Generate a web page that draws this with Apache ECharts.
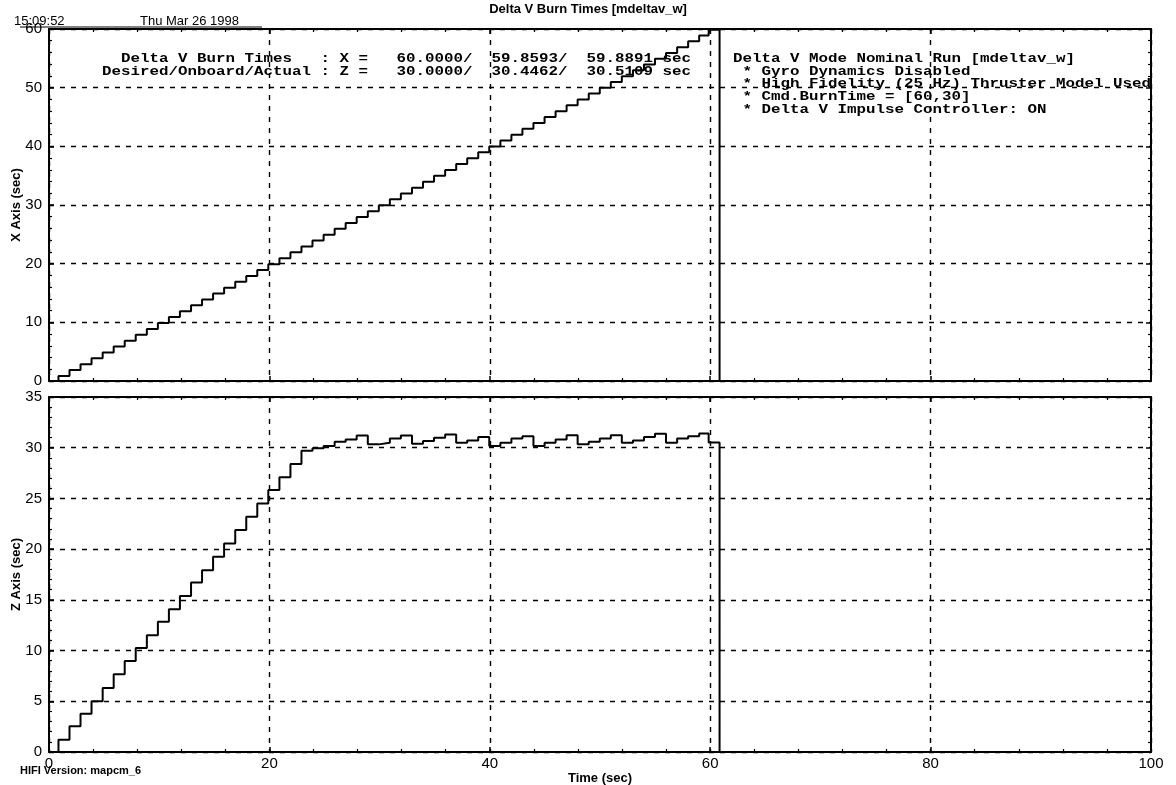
<!DOCTYPE html>
<html>
<head>
<meta charset="utf-8">
<script src="https://cdn.jsdelivr.net/npm/echarts@6/dist/echarts.min.js"></script>
<style>html,body{margin:0;padding:0;background:#fff}#c{width:1176px;height:785px}</style>
</head>
<body>
<div id="c"></div>
<script>
// ---- data ----
const pulseTimes = [0.86,1.86,2.86,3.86,4.87,5.87,6.87,7.87,8.88,9.88,10.88,11.88,12.89,13.89,14.89,15.89,16.9,17.9,18.9,19.9,20.91,21.91,22.91,23.91,24.92,25.92,26.92,27.92,28.93,29.93,30.93,31.93,32.94,33.94,34.94,35.95,36.95,37.95,38.95,39.95,40.96,41.96,42.96,43.96,44.97,45.97,46.97,47.97,48.98,49.98,50.98,51.98,52.99,53.99,54.99,55.99,57.0,58.0,59.0,59.86];
const xBurn = [0.85,1.86,2.86,3.87,4.87,5.87,6.88,7.88,8.88,9.89,10.89,11.89,12.9,13.9,14.9,15.91,16.91,17.91,18.92,19.92,20.92,21.93,22.93,23.93,24.94,25.94,26.94,27.95,28.95,29.95,30.96,31.96,32.96,33.97,34.97,35.97,36.98,37.98,38.98,39.99,40.99,41.99,42.99,43.99,44.99,45.99,46.99,47.99,48.99,49.99,50.97,51.96,52.95,53.94,54.93,55.92,56.91,57.9,58.9,59.89];
const zBurn = [1.22,2.53,3.78,5.0,6.32,7.66,8.98,10.26,11.51,12.83,14.08,15.39,16.71,17.93,19.24,20.56,21.88,23.19,24.5,25.82,27.1,28.4,29.7,29.95,30.16,30.59,30.82,31.2,30.33,30.49,30.9,31.2,30.4,30.65,30.98,31.3,30.49,30.72,31.05,30.16,30.49,30.9,31.14,30.16,30.49,30.82,31.24,30.33,30.59,30.9,31.24,30.49,30.72,31.05,31.37,30.49,30.9,31.14,31.4,30.51];
const cutoffTime = 60.85;
const xTicks = [0,20,40,60,80,100];
const yTicksX = [0,10,20,30,40,50,60];
const yTicksZ = [0,5,10,15,20,25,30,35];
const leftNote = [
  "  Delta V Burn Times   : X =   60.0000/  59.8593/  59.8891 sec",
  "Desired/Onboard/Actual : Z =   30.0000/  30.4462/  30.5109 sec"
];
const rightNote = [
  "Delta V Mode Nominal Run [mdeltav_w]",
  " * Gyro Dynamics Disabled",
  " * High Fidelity (25 Hz) Thruster Model Used",
  " * Cmd.BurnTime = [60,30]",
  " * Delta V Impulse Controller: ON"
];

// ---- build series ----
function buildStep(vals){
  const d = [[0,0]];
  pulseTimes.forEach((t,i)=>d.push([t, vals[i]]));
  d.push([cutoffTime, 0]);
  d.push([100, 0]);
  return d;
}

const chart = echarts.init(document.getElementById('c'), null, {renderer:'canvas'});
const sans = '"Liberation Sans", Arial, sans-serif';
const dash = {color:'#000', width:1.4, type:[5,6]};
const G = [
  {left:49, right:25, top:29, height:352, containLabel:false, outerBoundsMode:'none'},
  {left:49, right:25, top:397, height:355, containLabel:false, outerBoundsMode:'none'}
];

function xAx(grid, pos, labels){
  return {
    type:'value', gridIndex:grid, position:pos, min:xTicks[0], max:xTicks[xTicks.length-1], interval:20,
    axisLine:{show:true, onZero:false, lineStyle:{color:'#000', width:2}},
    axisTick:{show:true, inside:true, length:5, lineStyle:{color:'#000', width:1.5}},
    minorTick:{show:true, splitNumber:5, length:3, lineStyle:{color:'#000', width:1.2}},
    axisLabel:{show:labels, color:'#000', fontFamily:sans, fontSize:15, margin:4},
    splitLine:{show:pos==='bottom', lineStyle:dash},
    name: labels ? 'Time (sec)' : '', nameLocation:'middle', nameGap:20, nameMoveOverlap:false,
    nameTextStyle:{color:'#000', fontFamily:sans, fontSize:13, fontWeight:'bold'}
  };
}
function yAx(grid, pos, max, step, name){
  const lab = pos==='left';
  return {
    type:'value', gridIndex:grid, position:pos, min:0, max:max, interval:step,
    axisLine:{show:true, onZero:false, lineStyle:{color:'#000', width:2}},
    axisTick:{show:true, inside:true, length:5, lineStyle:{color:'#000', width:1.5}},
    minorTick:{show:true, splitNumber:5, length:3, lineStyle:{color:'#000', width:1.2}},
    axisLabel:{show:lab, color:'#000', fontFamily:sans, fontSize:15, margin:7},
    splitLine:{show:lab, lineStyle:dash},
    name: lab ? name : '', nameLocation:'middle', nameGap:26, nameRotate:90, nameMoveOverlap:false,
    nameTextStyle:{color:'#000', fontFamily:sans, fontSize:13, fontWeight:'bold'}
  };
}

const mono = 'bold 13px "Liberation Mono", "Courier New", monospace';
const sx = 9.5/7.8;
const graphic = [];
leftNote.forEach((s,i)=>graphic.push({type:'text', x:102, y:59+i*13, scaleX:sx, z:10,
  style:{text:s, font:mono, fill:'#000', textVerticalAlign:'middle'}}));
rightNote.forEach((s,i)=>graphic.push({type:'text', x:733, y:59+i*12.6, scaleX:sx, z:10,
  style:{text:s, font:mono, fill:'#000', textVerticalAlign:'middle'}}));
graphic.push({type:'text', x:14, y:21, style:{text:'15:09:52', font:'13px '+sans, fill:'#000', textVerticalAlign:'middle'}});
graphic.push({type:'text', x:140, y:21, style:{text:'Thu Mar 26 1998', font:'13px '+sans, fill:'#000', textVerticalAlign:'middle'}});
graphic.push({type:'line', shape:{x1:20, y1:27, x2:262, y2:27}, style:{stroke:'#000', lineWidth:1}});
graphic.push({type:'text', x:588, y:9, style:{text:'Delta V Burn Times [mdeltav_w]', font:'bold 13px '+sans, fill:'#000', textAlign:'center', textVerticalAlign:'middle'}});
graphic.push({type:'text', x:20, y:771, style:{text:'HIFI Version: mapcm_6', font:'bold 11px '+sans, fill:'#000', textVerticalAlign:'middle'}});

chart.setOption({
  animation:false,
  backgroundColor:'#fff',
  grid:G,
  xAxis:[xAx(0,'bottom',false), xAx(0,'top',false), xAx(1,'bottom',true), xAx(1,'top',false)],
  yAxis:[yAx(0,'left',60,10,'X Axis (sec)'), yAx(0,'right',60,10,''), yAx(1,'left',35,5,'Z Axis (sec)'), yAx(1,'right',35,5,'')],
  series:[
    {type:'line', xAxisIndex:0, yAxisIndex:0, step:'end', showSymbol:false, data:buildStep(xBurn),
     lineStyle:{color:'#000', width:2}, z:5},
    {type:'line', xAxisIndex:2, yAxisIndex:2, step:'end', showSymbol:false, data:buildStep(zBurn),
     lineStyle:{color:'#000', width:2}, z:5}
  ],
  graphic:graphic
});
</script>
</body>
</html>
